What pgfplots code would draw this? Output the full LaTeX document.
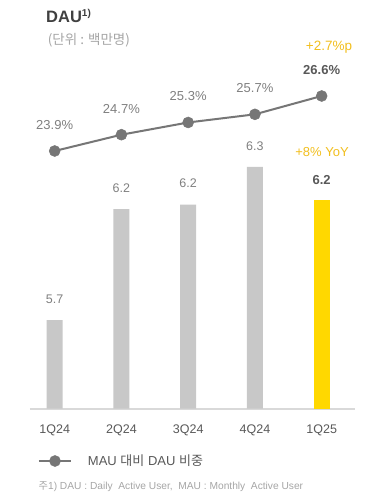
\documentclass[border=0pt]{standalone}
\usepackage{fontspec}
\setmainfont{Liberation Sans}
\newfontfamily\cjk{Noto Sans CJK KR}
\usepackage{pgfplots}
\pgfplotsset{compat=1.18}
\definecolor{barGray}{HTML}{C8C8C8}
\definecolor{barYellow}{HTML}{FFD800}
\definecolor{lineGray}{HTML}{767676}
\definecolor{labGray}{HTML}{808080}
\definecolor{darkText}{HTML}{595959}
\definecolor{titleText}{HTML}{404040}
\definecolor{gold}{HTML}{F2BF1E}
\definecolor{axisGray}{HTML}{D9D9D9}
\definecolor{noteGray}{HTML}{A6A6A6}

\begin{document}
\begin{tikzpicture}[x=1pt,y=1pt]
\useasboundingbox[fill=white] (0,0) rectangle (382,501);
% ---- bars ----
\begin{axis}[at={(21.3pt,92.3pt)}, anchor=south west, scale only axis,
  width=333.75pt, height=330pt,
  xmin=-0.5, xmax=4.5, ymin=5.3, ymax=6.7882,
  axis x line*=bottom, axis y line=none,
  x axis line style={draw=axisGray, line width=2pt, -, shorten <=8.7pt},
  xtick={0,1,2,3,4}, xticklabels={1Q24,2Q24,3Q24,4Q24,1Q25},
  xtick style={draw=none},
  xticklabel style={anchor=base, yshift=-24.3pt, font=\fontsize{12.5}{14}\selectfont, text=darkText},
  clip=false]
\addplot[ybar, bar width=16pt, bar shift=0pt, fill=barGray, draw=none,
  nodes near coords, point meta=explicit symbolic,
  nodes near coords style={anchor=center, yshift=21pt, font=\fontsize{12.5}{14}\selectfont, text=labGray}]
  coordinates {(0,5.70)[5.7] (1,6.20)[6.2] (2,6.22)[6.2] (3,6.39)[6.3]};
\addplot[ybar, bar width=16pt, bar shift=0pt, fill=barYellow, draw=none,
  nodes near coords, point meta=explicit symbolic,
  nodes near coords style={anchor=center, yshift=20pt, font=\bfseries\fontsize{13}{14}\selectfont, text=darkText}]
  coordinates {(4,6.24)[6.2]};
\end{axis}
% ---- line ----
\begin{axis}[at={(21.3pt,92.3pt)}, anchor=south west, scale only axis,
  width=333.75pt, height=330pt,
  xmin=-0.5, xmax=4.5, ymin=11.249, ymax=27.449,
  hide axis, clip=false,
  legend style={at={(0.05004,-0.1585)}, anchor=west, draw=none, fill=none,
    inner sep=0pt, outer sep=0pt, column sep=16pt,
    font=\fontsize{13}{14}\selectfont, text=darkText,
    nodes={inner sep=0pt}},
  legend image code/.code={\draw[mark repeat=2,mark phase=2,#1] plot coordinates {(0pt,0pt) (16pt,0pt) (32pt,0pt)};}]
\addplot[lineGray, line width=2pt, mark=*, mark size=5.5pt,
  mark options={fill=lineGray, draw=lineGray, line width=0.5pt},
  nodes near coords, point meta=explicit symbolic,
  nodes near coords style={anchor=center, yshift=26pt, font=\fontsize{13}{14}\selectfont, text=labGray}]
  coordinates {(0,23.9)[23.9\%] (1,24.7)[24.7\%] (2,25.3)[25.3\%] (3,25.7)[25.7\%] (4,26.6)[{\bfseries\textcolor{darkText}{26.6\%}}]};
\addlegendentry{MAU {\cjk 대비} DAU {\cjk 비중}}
\end{axis}
% ---- texts ----
\node[anchor=base west, inner sep=0pt, font=\bfseries\fontsize{16.5}{18}\selectfont, text=titleText] at (46,478.3) {DAU\raisebox{6pt}{\fontsize{10}{11}\selectfont 1)}};
\node[anchor=west, inner sep=0pt, font=\cjk\fontsize{13.5}{14}\selectfont, text=noteGray] at (47.7,461) {(단위 : 백만명)};
\node[inner sep=0pt, text=gold, font=\fontsize{13.5}{14}\selectfont] at (329,454) {+2.7\%p};
\node[inner sep=0pt, text=gold, font=\fontsize{13}{14}\selectfont] at (322,349) {+8\% YoY};
\node[anchor=west, inner sep=0pt, text=noteGray, font=\fontsize{10.2}{12}\selectfont] at (38.5,14) {{\cjk 주}1) DAU : Daily\ \ Active User,\ \ MAU : Monthly\ \ Active User};
\end{tikzpicture}
\end{document}
